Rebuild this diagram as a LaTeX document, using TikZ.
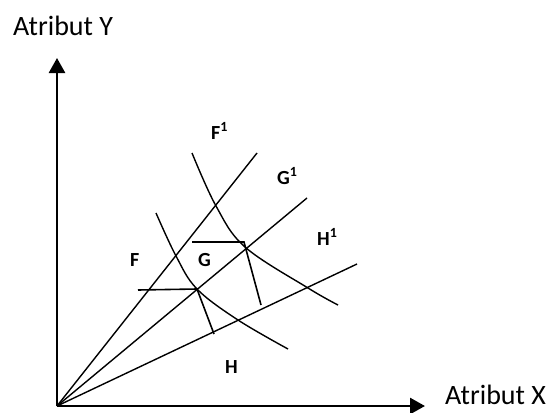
\documentclass[tikz,border=0pt]{standalone}
\usepackage{fontspec}
\setmainfont{Carlito}
\usetikzlibrary{arrows.meta}

\begin{document}
\begin{tikzpicture}[x=1pt, y=-1pt, every node/.style={inner sep=0pt}]
			% Styles
			\tikzstyle{axis} = [line width=2.6pt, -{Triangle[length=15pt, width=16pt]}]
			\tikzstyle{ray} = [line width=1.4pt]
			\tikzstyle{curve} = [line width=1.4pt]
			\tikzstyle{budget} = [line width=1.6pt]
			\tikzstyle{axis_label} = [anchor=base west, font=\fontsize{28}{32}\selectfont]
			\tikzstyle{area_label} = [anchor=base west, font=\fontsize{20}{22}\selectfont\bfseries]

			% Canvas
			\useasboundingbox (0, 0) rectangle (556, 412);

			% Origin and axes
			\coordinate (O) at (57, 406);
			\coordinate (ytip) at (57, 58);
			\coordinate (xtip) at (425, 406);
			\draw[axis] (O) -- (ytip);
			\draw[axis] (O) -- (xtip);

			% Axis labels
			\node[axis_label] (laby) at (13, 36) {Atribut Y};
			\node[axis_label] (labx) at (445, 404) {Atribut X};

			% Rays from the origin
			\coordinate (rayF) at (257, 153);
			\coordinate (rayG) at (307, 198);
			\coordinate (rayH) at (357, 264);
			\draw[ray] (O) -- (rayF);
			\draw[ray] (O) -- (rayG);
			\draw[ray] (O) -- (rayH);

			% Inner curve
			\coordinate (in1) at (156, 213);
			\coordinate (in2) at (176, 256);
			\coordinate (in3) at (197, 289);
			\coordinate (in4) at (238, 320);
			\coordinate (in5) at (288, 349);
			\draw[curve] plot[smooth, tension=0.6] coordinates {(in1) (in2) (in3) (in4) (in5)};

			% Outer curve
			\coordinate (out1) at (192, 153);
			\coordinate (out2) at (216, 206);
			\coordinate (out3) at (245, 247);
			\coordinate (out4) at (308, 288);
			\coordinate (out5) at (338, 305);
			\draw[curve] plot[smooth, tension=0.6] coordinates {(out1) (out2) (out3) (out4) (out5)};

			% Lower corner
			\coordinate (lowL) at (138, 290);
			\coordinate (lowC) at (197, 289);
			\coordinate (lowE) at (214, 334);
			\draw[budget] (lowL) -- (lowC) -- (lowE);

			% Upper corner
			\coordinate (upL) at (192, 242);
			\coordinate (upC) at (244, 242);
			\coordinate (upE) at (261, 305);
			\draw[budget] (upL) -- (upC) -- (upE);

			% Area labels
			\node[area_label] (F) at (130, 266) {F};
			\node[area_label] (G) at (198, 266) {G};
			\node[area_label] (H) at (225, 373) {H};
			\node[area_label] (F1) at (211, 139) {F\textsuperscript{1}};
			\node[area_label] (G1) at (277, 184) {G\textsuperscript{1}};
			\node[area_label] (H1) at (317, 245) {H\textsuperscript{1}};

		\end{tikzpicture}
\end{document}
